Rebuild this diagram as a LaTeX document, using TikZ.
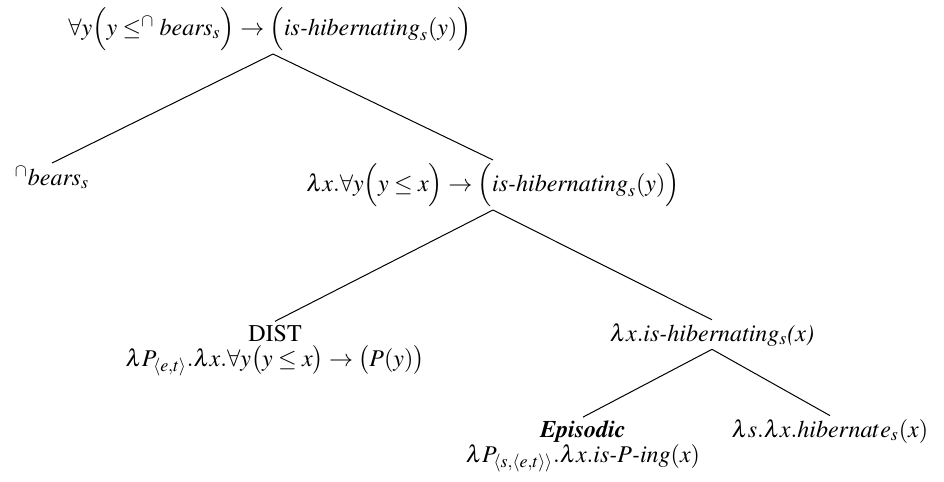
\documentclass[12pt,tikz,border=0pt]{standalone}
\usepackage[T1]{fontenc}
\usepackage{mathptmx}
\begin{document}
\begin{tikzpicture}[x=0.5pt,y=-0.5pt,
  lbl/.style={anchor=base,inner sep=1.5pt,font=\fontsize{12}{14.4}\selectfont},
  edge/.style={line width=0.5pt}]
\useasboundingbox (0,0) rectangle (944,482);
\node[lbl] (root) at (270,35) {$\forall y\Bigl(y \leq^{\cap} \textit{bears}_s\Bigr) \rightarrow \Bigl(\textit{is-hibernating}_s(y)\Bigr)$};
\node[lbl] (bears) at (52,185) {$^{\cap}\textit{bears}_s$};
\node[lbl] (mid) at (493,191) {$\lambda x.\forall y\Bigl(y \leq x\Bigr) \rightarrow \Bigl(\textit{is-hibernating}_s(y)\Bigr)$};
\node[lbl] (dist) at (275,341) {DIST};
\node[lbl] (distf) at (275,366) {$\lambda P_{\langle e,t\rangle}.\lambda x.\forall y\bigl(y \leq x\bigr) \rightarrow \bigl(P(y)\bigr)$};
\node[lbl] (hib) at (712,341) {$\lambda x.$\textit{is-hibernating$_s$(x)}};
\node[lbl] (epi) at (583,437) {\textbf{\textit{Episodic}}};
\node[lbl] (epif) at (583,462) {$\lambda P_{\langle s,\langle e,t\rangle\rangle}.\lambda x.\textit{is-}P\textit{-ing}(x)$};
\node[lbl] (hibv) at (830,437) {$\lambda s.\lambda x.hibernate_s(x)$};
\draw[edge] (root.south -| 273,0) -- (bears.north);
\draw[edge] (root.south -| 273,0) -- (mid.north);
\draw[edge] (mid.south) -- (dist.north);
\draw[edge] (mid.south) -- (hib.north);
\draw[edge] (hib.south) -- (epi.north);
\draw[edge] (hib.south) -- (hibv.north);
\end{tikzpicture}
\end{document}
